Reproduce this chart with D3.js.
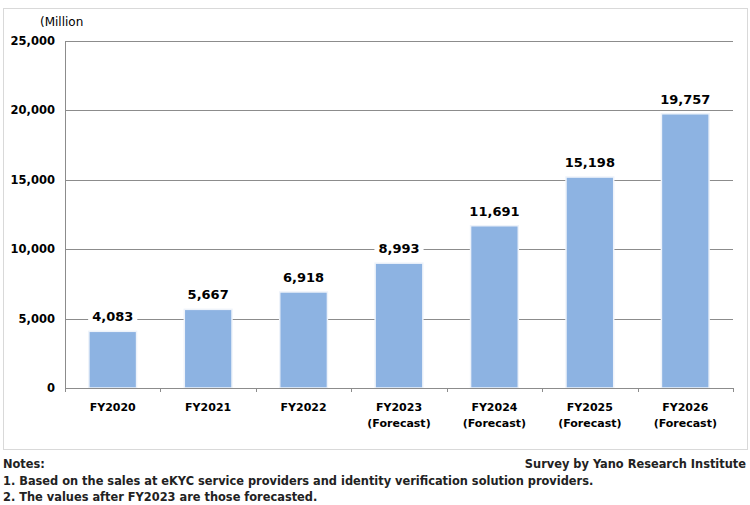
<!DOCTYPE html>
<html>
<head>
<meta charset="utf-8">
<script src="https://cdn.jsdelivr.net/npm/d3@7"></script>
<style>
  body { margin: 0; background: #fff; }
  text { font-family: "DejaVu Sans", Verdana, sans-serif; }
</style>
</head>
<body>
<div id="chart"></div>
<script>
// data
const years = ["FY2020", "FY2021", "FY2022", "FY2023", "FY2024", "FY2025", "FY2026"];
const subLabels = ["", "", "", "(Forecast)", "(Forecast)", "(Forecast)", "(Forecast)"];
const values = [4083, 5667, 6918, 8993, 11691, 15198, 19757];
const yTicks = [0, 5000, 10000, 15000, 20000, 25000];

const width = 750, height = 505;
const plotL = 65, plotR = 733, plotT = 41, plotB = 388;

const svg = d3.select("#chart").append("svg")
    .attr("width", width)
    .attr("height", height);

// outer frame
svg.append("rect")
    .attr("x", 3.5).attr("y", 8.5)
    .attr("width", 744).attr("height", 441)
    .attr("fill", "none")
    .attr("stroke", "#d9d9d9");

const x = d3.scaleBand().domain(years).range([plotL, plotR]).paddingInner(0.5).paddingOuter(0.25);
const y = d3.scaleLinear().domain([0, 25000]).range([plotB, plotT]);

// gridlines
svg.selectAll(".grid").data(yTicks.filter(d => d > 0)).enter()
    .append("line")
    .attr("x1", plotL).attr("x2", plotR)
    .attr("y1", d => Math.round(y(d)) + 0.5).attr("y2", d => Math.round(y(d)) + 0.5)
    .attr("stroke", "#8c8c8c");

// y tick labels
svg.selectAll(".ylab").data(yTicks).enter()
    .append("text")
    .attr("x", 55).attr("y", d => y(d) + 4)
    .attr("text-anchor", "end")
    .attr("font-size", 11.5).attr("font-weight", "bold")
    .text(d => d3.format(",")(d));

svg.append("text")
    .attr("x", 40).attr("y", 26)
    .attr("font-size", 12)
    .text("(Million");

// bars with a pale edge
svg.selectAll(".bar").data(values).enter()
    .append("rect")
    .attr("x", (d, i) => x(years[i]))
    .attr("y", d => y(d))
    .attr("width", x.bandwidth())
    .attr("height", d => plotB - y(d))
    .attr("fill", "#8db3e2")
    .attr("stroke", "#eef3fa")
    .attr("stroke-width", 1.5);

// value labels on a white patch (they hide the gridline)
const vals = svg.selectAll(".val").data(values).enter()
    .append("g")
    .attr("transform", (d, i) => `translate(${x(years[i]) + x.bandwidth() / 2},${y(d) - 10})`);
vals.append("text")
    .attr("text-anchor", "middle")
    .attr("font-size", 13).attr("font-weight", "bold")
    .text(d => d3.format(",")(d))
    .each(function () {
        const b = this.getBBox();
        d3.select(this.parentNode).insert("rect", "text")
            .attr("x", b.x - 4).attr("y", b.y)
            .attr("width", b.width + 8).attr("height", b.height)
            .attr("fill", "#fff");
    });

// axes lines
svg.append("line")
    .attr("x1", plotL + 0.5).attr("x2", plotL + 0.5)
    .attr("y1", plotT).attr("y2", plotB)
    .attr("stroke", "#8c8c8c");
svg.append("line")
    .attr("x1", plotL).attr("x2", plotR)
    .attr("y1", plotB + 0.5).attr("y2", plotB + 0.5)
    .attr("stroke", "#8c8c8c");

// category tick marks between bands
svg.selectAll(".tick").data(d3.range(years.length + 1)).enter()
    .append("line")
    .attr("x1", i => Math.round(plotL + i * (plotR - plotL) / years.length) + 0.5)
    .attr("x2", i => Math.round(plotL + i * (plotR - plotL) / years.length) + 0.5)
    .attr("y1", plotB).attr("y2", plotB + 4)
    .attr("stroke", "#8c8c8c");

// x labels
const xl = svg.selectAll(".xlab").data(years).enter()
    .append("text")
    .attr("text-anchor", "middle")
    .attr("font-size", 11).attr("font-weight", "bold")
    .attr("transform", d => `translate(${x(d) + x.bandwidth() / 2},${plotB + 23})`);
xl.append("tspan").attr("x", 0).attr("y", 0).text(d => d);
xl.append("tspan").attr("x", 0).attr("y", 16).text((d, i) => subLabels[i]);

// notes
const notes = ["Notes:",
    "1. Based on the sales at eKYC service providers and identity verification solution providers.",
    "2. The values after FY2023 are those forecasted."];
svg.selectAll(".note").data(notes).enter()
    .append("text")
    .attr("x", 3).attr("y", (d, i) => 468 + i * 16.5)
    .attr("font-size", 11.4).attr("font-weight", "bold")
    .attr("fill", "#222")
    .text(d => d);

svg.append("text")
    .attr("x", 746).attr("y", 468)
    .attr("text-anchor", "end")
    .attr("font-size", 11.4).attr("font-weight", "bold")
    .attr("fill", "#222")
    .text("Survey by Yano Research Institute");
</script>
</body>
</html>
